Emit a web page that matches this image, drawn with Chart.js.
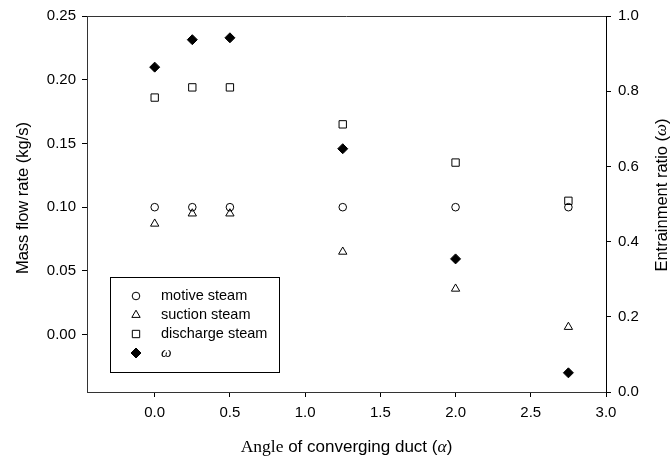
<!DOCTYPE html>
<html>
<head>
<meta charset="utf-8">
<script src="https://cdn.jsdelivr.net/npm/chart.js@4"></script>
<style>
  html, body { margin: 0; padding: 0; background: #fff; }
  #wrap { width: 672px; height: 461px; position: relative; }
</style>
</head>
<body>
<div id="wrap"><canvas id="chart" width="672" height="461"></canvas></div>
<script>
// angle of converging duct
const angles = [0, 0.25, 0.5, 1.25, 2.0, 2.75];
// mass flow rates (kg/s), left axis
const motiveSteam = [0.100, 0.100, 0.100, 0.100, 0.100, 0.100];
const suctionSteam = [0.087, 0.095, 0.095, 0.065, 0.036, 0.006];
const dischargeSteam = [0.186, 0.194, 0.194, 0.165, 0.135, 0.105];
// entrainment ratio, right axis
const omega = [0.864, 0.937, 0.942, 0.647, 0.354, 0.051];

const xTicks = [0, 0.5, 1.0, 1.5, 2.0, 2.5, 3.0];
const leftTicks = [0, 0.05, 0.10, 0.15, 0.20, 0.25];
const rightTicks = [0, 0.2, 0.4, 0.6, 0.8, 1.0];

const SANS = "'Liberation Sans', Arial, sans-serif";
const SERIF = "'Liberation Serif', 'Times New Roman', serif";

function pts(ys) {
  return angles.map((a, i) => ({ x: a, y: ys[i] }));
}

function setTicks(list) {
  return scale => { scale.ticks = list.map(v => ({ value: v })); };
}

// frame, axis titles and the legend box
const decorations = {
  id: 'decorations',
  afterDraw(chart) {
    const ctx = chart.ctx;
    const a = chart.chartArea;
    ctx.save();

    ctx.strokeStyle = '#333';
    ctx.lineWidth = 1;
    ctx.beginPath();
    ctx.moveTo(a.left, a.top + 0.5);
    ctx.lineTo(a.right, a.top + 0.5);
    ctx.stroke();

    ctx.fillStyle = '#000';
    ctx.textBaseline = 'middle';

    // left title
    ctx.save();
    ctx.translate(23, 198);
    ctx.rotate(-Math.PI / 2);
    ctx.font = '16.5px ' + SANS;
    ctx.textAlign = 'center';
    ctx.fillText('Mass flow rate (kg/s)', 0, 0);
    ctx.restore();

    // right title with italic omega
    ctx.save();
    ctx.translate(662, 195);
    ctx.rotate(-Math.PI / 2);
    drawMixed(ctx, [
      ['Entrainment ratio (', '16.5px ' + SANS],
      ['\u03c9', 'italic 17px ' + SERIF],
      [')', '16.5px ' + SANS]
    ], 0, 0);
    ctx.restore();

    // bottom title
    drawMixed(ctx, [
      ['Angle', '17.5px ' + SERIF],
      [' of converging duct (', '17px ' + SANS],
      ['\u03b1', 'italic 17.5px ' + SERIF],
      [')', '17px ' + SANS]
    ], (a.left + a.right) / 2, 447);

    // legend
    const bx = 110, by = 277, bw = 169, bh = 95;
    ctx.fillStyle = '#fff';
    ctx.fillRect(bx, by, bw, bh);
    ctx.strokeStyle = '#000';
    ctx.lineWidth = 1;
    ctx.strokeRect(bx + 0.5, by + 0.5, bw, bh);
    const rows = [296, 315, 334, 353];
    chart.data.datasets.forEach((ds, i) => {
      ctx.fillStyle = ds.pointBackgroundColor;
      ctx.strokeStyle = '#000';
      ctx.lineWidth = 1;
      ctx.beginPath();
      drawShape(ctx, ds.pointStyle, ds.pointRadius, 136, rows[i]);
      ctx.fill();
      ctx.stroke();
      ctx.fillStyle = '#000';
      ctx.textAlign = 'left';
      ctx.textBaseline = 'middle';
      if (ds.label === '\u03c9') {
        ctx.font = 'italic 15px ' + SERIF;
      } else {
        ctx.font = '14.5px ' + SANS;
      }
      ctx.fillText(ds.label, 161, rows[i]);
    });
    ctx.restore();
  }
};

function drawShape(ctx, style, r, x, y) {
  if (style === 'circle') {
    ctx.arc(x, y, r, 0, Math.PI * 2);
  } else if (style === 'rect') {
    const s = Math.SQRT1_2 * r;
    ctx.rect(x - s, y - s, 2 * s, 2 * s);
  } else if (style === 'triangle') {
    for (let k = 0; k < 3; k++) {
      const ang = k * 2 * Math.PI / 3;
      const px = x + Math.sin(ang) * r, py = y - Math.cos(ang) * r;
      if (k === 0) ctx.moveTo(px, py); else ctx.lineTo(px, py);
    }
    ctx.closePath();
  } else if (style === 'rectRot') {
    ctx.moveTo(x, y - r);
    ctx.lineTo(x + r, y);
    ctx.lineTo(x, y + r);
    ctx.lineTo(x - r, y);
    ctx.closePath();
  }
}

function drawMixed(ctx, parts, cx, cy) {
  let total = 0;
  parts.forEach(p => { ctx.font = p[1]; total += ctx.measureText(p[0]).width; });
  let x = cx - total / 2;
  ctx.textAlign = 'left';
  ctx.textBaseline = 'middle';
  ctx.fillStyle = '#000';
  parts.forEach(p => {
    ctx.font = p[1];
    ctx.fillText(p[0], x, cy);
    x += ctx.measureText(p[0]).width;
  });
}

const hollow = 'rgba(0,0,0,0)';

new Chart(document.getElementById('chart'), {
  type: 'scatter',
  data: {
    datasets: [{
      label: 'motive steam',
      data: pts(motiveSteam),
      yAxisID: 'y',
      pointStyle: 'circle',
      pointRadius: 3.8,
      pointBackgroundColor: hollow,
      pointBorderColor: '#000',
      pointBorderWidth: 1
    }, {
      label: 'suction steam',
      data: pts(suctionSteam),
      yAxisID: 'y',
      pointStyle: 'triangle',
      pointRadius: 4.8,
      pointBackgroundColor: hollow,
      pointBorderColor: '#000',
      pointBorderWidth: 1
    }, {
      label: 'discharge steam',
      data: pts(dischargeSteam),
      yAxisID: 'y',
      pointStyle: 'rect',
      pointRadius: 5.2,
      pointBackgroundColor: hollow,
      pointBorderColor: '#000',
      pointBorderWidth: 1
    }, {
      label: '\u03c9',
      data: pts(omega),
      yAxisID: 'y1',
      pointStyle: 'rectRot',
      pointRadius: 5,
      pointBackgroundColor: '#000',
      pointBorderColor: '#000',
      pointBorderWidth: 1
    }]
  },
  options: {
    responsive: false,
    animation: false,
    layout: { padding: { top: 14, left: 0, right: 0, bottom: 0 } },
    plugins: {
      legend: { display: false },
      tooltip: { enabled: false }
    },
    scales: {
      x: {
        type: 'linear',
        min: -0.45,
        max: 3.0,
        afterBuildTicks: setTicks(xTicks),
        afterFit: s => { s.height = 69; },
        grid: { drawOnChartArea: false, tickLength: 5, color: '#000' },
        border: { color: '#333', width: 1 },
        ticks: {
          color: '#000',
          padding: 7,
          font: { family: SANS, size: 15 },
          callback: v => Number(v).toFixed(1)
        }
      },
      y: {
        type: 'linear',
        position: 'left',
        min: -0.045,
        max: 0.25,
        afterBuildTicks: setTicks(leftTicks),
        afterFit: s => { s.width = 87; },
        grid: { drawOnChartArea: false, tickLength: 5, color: '#000' },
        border: { color: '#333', width: 1 },
        ticks: {
          color: '#000',
          padding: 6,
          font: { family: SANS, size: 15 },
          callback: v => Number(v).toFixed(2)
        }
      },
      y1: {
        type: 'linear',
        position: 'right',
        min: 0,
        max: 1.0,
        afterBuildTicks: setTicks(rightTicks),
        afterFit: s => { s.width = 66; },
        grid: { drawOnChartArea: false, tickLength: 5, color: '#000' },
        border: { color: '#000', width: 1 },
        ticks: {
          color: '#000',
          padding: 7,
          font: { family: SANS, size: 15 },
          callback: v => Number(v).toFixed(1)
        }
      }
    }
  },
  plugins: [decorations]
});
</script>
</body>
</html>
